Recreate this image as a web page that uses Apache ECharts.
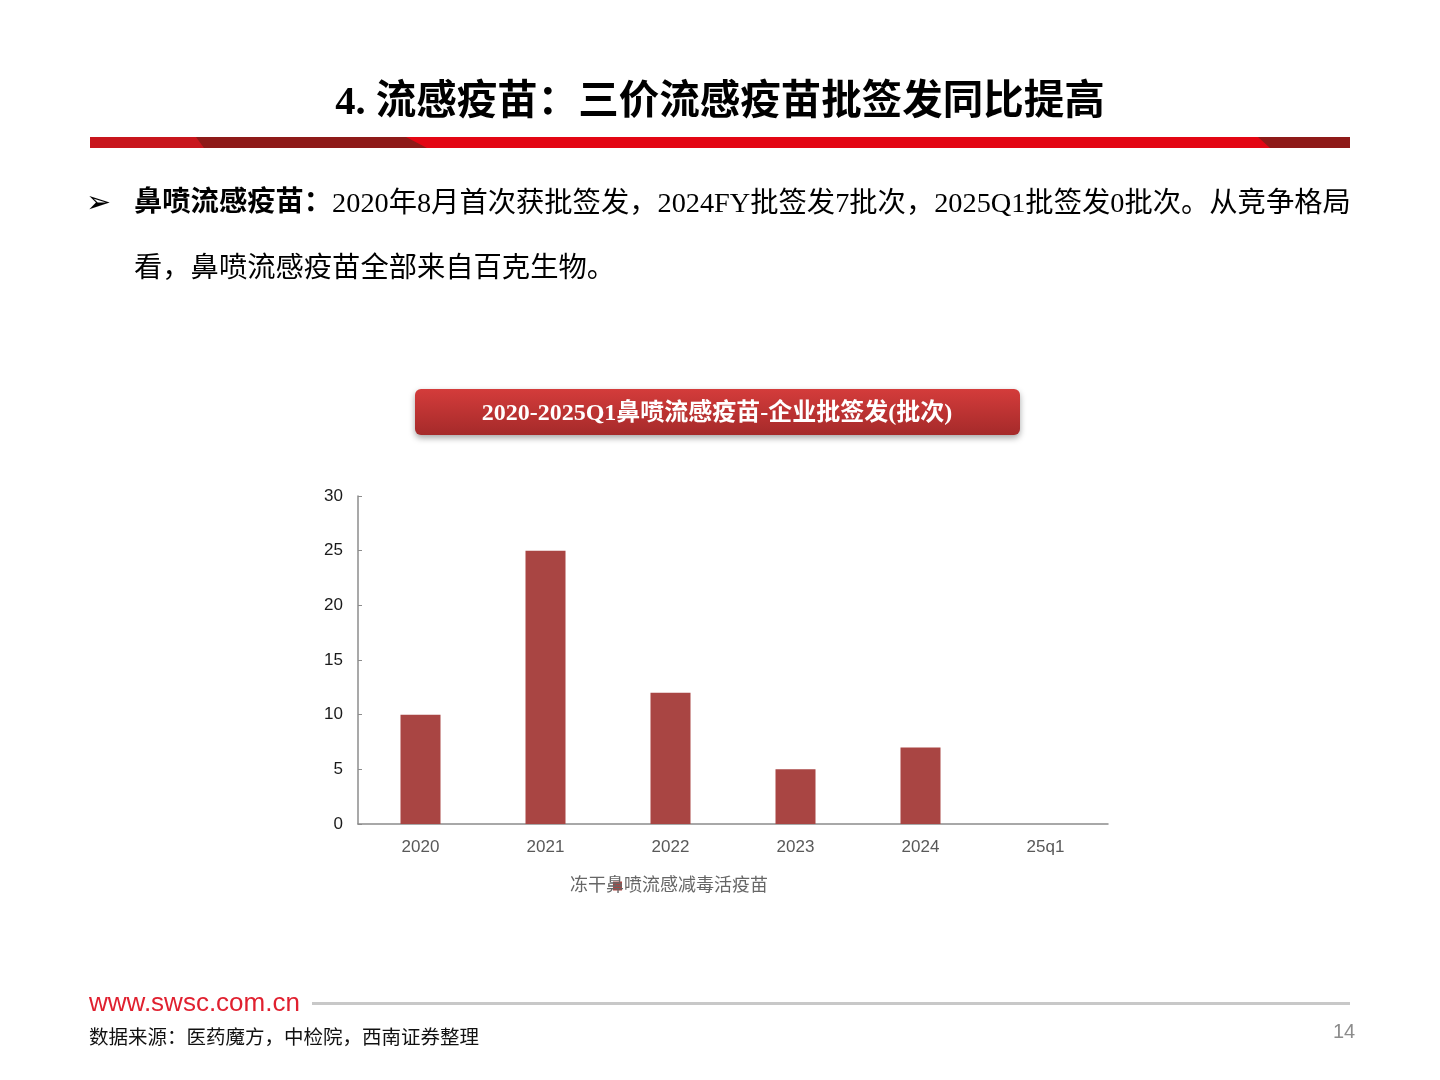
<!DOCTYPE html>
<html>
<head>
<meta charset="utf-8">
<script src="https://cdn.jsdelivr.net/npm/echarts@6/dist/echarts.min.js"></script>
<style>
html,body{margin:0;padding:0;background:#fff;}
#chart{width:1440px;height:1080px;}
</style>
</head>
<body>
<div id="chart"></div>
<script>
const categories = ['2020', '2021', '2022', '2023', '2024', '25q1'];
const seriesName = '冻干鼻喷流感减毒活疫苗';
const values = [10, 25, 12, 5, 7, 0];
const yTicks = [0, 5, 10, 15, 20, 25, 30];

const pageTitle = '4. 流感疫苗：三价流感疫苗批签发同比提高';
const bulletBold = '鼻喷流感疫苗：';
const bulletLine1 = '2020年8月首次获批签发，2024FY批签发7批次，2025Q1批签发0批次。从竞争格局';
const bulletLine2 = '看，鼻喷流感疫苗全部来自百克生物。';
const chartTitle = '2020-2025Q1鼻喷流感疫苗-企业批签发(批次)';
const siteText = 'www.swsc.com.cn';
const sourceText = '数据来源：医药魔方，中检院，西南证券整理';
const pageNo = '14';

const CJK = '"Liberation Serif","Noto Sans CJK SC",serif';
const chart = echarts.init(document.getElementById('chart'), null, {renderer: 'canvas'});

chart.setOption({
  backgroundColor: '#ffffff',
  animation: false,
  grid: {left: 358, right: 332, top: 496, bottom: 256},
  xAxis: {
    type: 'category',
    data: categories,
    axisLine: {lineStyle: {color: '#8c8c8c', width: 1.5}},
    axisTick: {show: false},
    axisLabel: {color: '#595959', fontSize: 17, fontFamily: '"Liberation Sans",Arial,sans-serif', margin: 15}
  },
  yAxis: {
    type: 'value',
    min: yTicks[0],
    max: yTicks[yTicks.length - 1],
    interval: yTicks[1] - yTicks[0],
    splitLine: {show: false},
    axisLine: {show: true, lineStyle: {color: '#8c8c8c', width: 1.5}},
    axisTick: {show: true, inside: true, length: 4, lineStyle: {color: '#8c8c8c'}},
    axisLabel: {color: '#1a1a1a', fontSize: 17, fontFamily: '"Liberation Sans",Arial,sans-serif', margin: 15}
  },
  legend: {
    data: [seriesName],
    left: 565,
    top: 872,
    icon: 'rect',
    itemWidth: 9,
    itemHeight: 9,
    itemGap: 0,
    selectedMode: false,
    textStyle: {color: '#666666', fontSize: 18, fontFamily: CJK, padding: [0, 0, 0, -57]}
  },
  series: [{
    name: seriesName,
    type: 'bar',
    data: values,
    barWidth: 40,
    itemStyle: {color: '#A94543'}
  }],
  graphic: [
    {type: 'text', left: 'center', top: 83, style: {text: pageTitle, fill: '#000', font: 'bold 40.5px ' + CJK}},
    // red header bar
    {type: 'rect', shape: {x: 90, y: 137, width: 1260, height: 11}, style: {fill: '#8E1A18'}},
    {type: 'polygon', shape: {points: [[90, 137], [196, 137], [204, 148], [90, 148]]}, style: {fill: '#C8161D'}},
    {type: 'polygon', shape: {points: [[406, 137], [1258, 137], [1270, 148], [427, 148]]}, style: {fill: '#E30613'}},
    // bullet
    {type: 'text', left: 86, top: 189, style: {text: '➢', fill: '#000', font: '30px "DejaVu Sans",sans-serif'}},
    {type: 'text', left: 134, top: 190, style: {
      rich: {
        b: {font: 'bold 28.3px ' + CJK, fill: '#000'},
        n: {font: '28.3px ' + CJK, fill: '#000'}
      },
      text: '{b|' + bulletBold + '}{n|' + bulletLine1 + '}'
    }},
    {type: 'text', left: 134, top: 255, style: {text: bulletLine2, fill: '#000', font: '28.3px ' + CJK}},
    // chart title banner
    {type: 'rect', shape: {x: 415, y: 389, width: 605, height: 46, r: 6},
      style: {
        fill: new echarts.graphic.LinearGradient(0, 0, 0, 1, [{offset: 0, color: '#D43C3B'}, {offset: 1, color: '#A52A2A'}]),
        shadowBlur: 6, shadowColor: 'rgba(0,0,0,0.35)', shadowOffsetY: 3
      }},
    {type: 'text', x: 717, y: 414, style: {text: chartTitle, fill: '#fff', font: 'bold 24px ' + CJK, textAlign: 'center', textVerticalAlign: 'middle'}},
    // footer
    {type: 'text', left: 89, top: 991, style: {text: siteText, fill: '#E0202F', font: '26px "Liberation Sans",Arial,sans-serif'}},
    {type: 'line', shape: {x1: 312, y1: 1003.5, x2: 1350, y2: 1003.5}, style: {stroke: '#c8c8c8', lineWidth: 3}},
    {type: 'text', left: 89, top: 1029, style: {text: sourceText, fill: '#111', font: '19.5px ' + CJK}},
    {type: 'text', x: 1344, y: 1032, style: {text: pageNo, fill: '#8c8c8c', font: '20px "Liberation Sans",Arial,sans-serif', textAlign: 'center', textVerticalAlign: 'middle'}}
  ]
});
</script>
</body>
</html>
